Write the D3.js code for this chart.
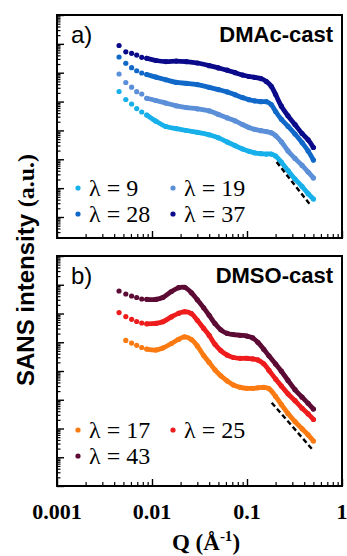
<!DOCTYPE html>
<html>
<head>
<meta charset="utf-8">
<script src="https://cdn.jsdelivr.net/npm/d3@7"></script>
<style>
  body { margin: 0; background: #fff; }
  svg { display: block; }
</style>
</head>
<body>
<svg id="fig" width="347" height="556"></svg>
<script>
// ---- Panel a: DMAc-cast membranes ----
const qA = [0.0045, 0.0053, 0.0061, 0.0069, 0.0078,
  0.0088, 0.011, 0.014, 0.018, 0.023, 0.03, 0.04, 0.05, 0.062, 0.075, 0.09,
  0.105, 0.12, 0.14, 0.16, 0.18, 0.2, 0.23, 0.27, 0.32, 0.38, 0.44, 0.5];
const iA9 = [2.23e4, 1.18e4, 8.23e3, 5.70e3, 4.35e3,
  3.42e3, 2.09e3, 1.37e3, 1.16e3, 994, 861, 705, 555, 397, 296, 227,
  189, 168, 156, 152, 152, 130, 79.2, 40.8, 20.7, 11.4, 6.42, 4.2];
const iA19 = [9.02e4, 4.57e4, 3.15e4, 2.20e4, 1.83e4,
  1.30e4, 1.09e4, 8.85e3, 7.13e3, 6.22e3, 5.61e3, 4.75e3, 3.59e3, 2.72e3, 2.14e3, 1.59e3,
  1.26e3, 1.09e3, 978, 910, 827, 662, 403, 195, 107, 61.4, 36.3, 22.5];
const iA28 = [3.50e5, 2.13e5, 1.50e5, 1.17e5, 9.77e4,
  8.67e4, 7.04e4, 5.68e4, 4.61e4, 4.29e4, 3.87e4, 3.12e4, 2.60e4, 2.16e4, 1.71e4, 1.37e4,
  1.16e4, 1.06e4, 9.9e3, 9.9e3, 7.85e3, 4.53e3, 2.43e3, 1.39e3, 751, 378, 194, 94];
const iA37 = [8.76e5, 5.30e5, 4.70e5, 4.10e5, 3.42e5,
  3.16e5, 2.65e5, 2.43e5, 2.54e5, 2.41e5, 2.17e5, 1.76e5, 1.47e5, 1.22e5, 1.0e5, 8.3e4,
  7.4e4, 6.9e4, 6.25e4, 4.95e4, 3.38e4, 1.76e4, 6.9e3, 3.21e3, 1.59e3, 782, 473, 256];
const lambdaA = [9, 19, 28, 37];
const porodQA = [0.205, 0.465];
const porodIA = [80, 2.6];

// ---- Panel b: DMSO-cast membranes ----
const qB = [0.0045, 0.0053, 0.0061, 0.0069, 0.0078,
  0.0088, 0.011, 0.013, 0.016, 0.019, 0.022, 0.026, 0.03, 0.035, 0.04, 0.046,
  0.053, 0.062, 0.072, 0.085, 0.1, 0.115, 0.13, 0.15, 0.17, 0.2, 0.23, 0.27,
  0.32, 0.38, 0.44, 0.5];
const iB17 = [null, 1.16e5, 9.33e4, 7.83e4, 6.56e4,
  5.78e4, 5.37e4, 6.31e4, 9.06e4, 1.25e5, 1.55e5, 1.24e5, 7.41e4, 3.46e4, 1.99e4, 1.10e4,
  6.81e3, 4.49e3, 3.26e3, 2.71e3, 2.50e3, 2.50e3, 2.61e3, 2.69e3, 2.44e3, 1.31e3, 678, 333,
  175, 97.7, 60.4, 36.7];
const iB25 = [1.08e6, 7.80e5, 6.28e5, 5.27e5, 4.67e5,
  4.38e5, 4.53e5, 5.14e5, 7.62e5, 1.01e6, 1.15e6, 9.93e5, 5.80e5, 3.03e5, 1.73e5, 8.49e4,
  5.13e4, 3.55e4, 2.95e4, 2.77e4, 2.77e4, 2.64e4, 2.43e4, 1.78e4, 1.07e4, 5.27e3, 3.01e3, 1.61e3,
  927, 505, 322, 206];
const iB43 = [6.07e6, 4.77e6, 4.06e6, 3.60e6, 3.19e6,
  3.12e6, 3.09e6, 3.60e6, 5.82e6, 7.89e6, 8.15e6, 5.25e6, 3.00e6, 1.57e6, 8.65e5, 4.46e5,
  2.71e5, 2.03e5, 1.86e5, 1.75e5, 1.64e5, 1.41e5, 9.96e4, 5.69e4, 3.38e4, 1.75e4, 9.84e3, 4.71e3,
  2.24e3, 1.23e3, 753, 476];
const lambdaB = [17, 25, 43];
const porodQB = [0.182, 0.5];
const porodIB = [790, 17];

// Shared axis
const qTickLabels = ["0.001", "0.01", "0.1", "1"];
const qTickValues = [0.001, 0.01, 0.1, 1];

// Number of sparse low-Q points before the dense detector range
const SPARSE = 5;

const SANS_FONT = "'Liberation Sans', Arial, sans-serif";
const SERIF_FONT = "'Liberation Serif', 'Times New Roman', serif";

const svg = d3.select("#fig");
const L = 57, R = 342;
const x = d3.scaleLog().domain([0.001, 1]).range([L, R]);

function decadeTicks(lo, hi) {
  const major = [], minor = [];
  for (let e = Math.floor(Math.log10(lo)); e <= Math.ceil(Math.log10(hi)); e++) {
    for (let m = 1; m <= 9; m++) {
      const v = m * Math.pow(10, e);
      if (v < lo * 0.999 || v > hi * 1.001) continue;
      (m === 1 ? major : minor).push(v);
    }
  }
  return { major, minor };
}

function drawPanel(cfg) {
  const { top, bottom, yDomain, q, series, tag, title, legend, porodQ, porodI } = cfg;
  const y = d3.scaleLog().domain(yDomain).range([bottom, top]);
  const g = svg.append("g");

  // inward ticks, left axis
  const yt = decadeTicks(yDomain[0], yDomain[1]);
  g.append("g").attr("transform", `translate(${L},0)`)
    .call(d3.axisLeft(y).tickValues(yt.minor).tickSize(-3.5).tickFormat(""))
    .call(a => a.select(".domain").remove())
    .call(a => a.selectAll("line").attr("stroke", "#000").attr("stroke-width", 1.2));
  g.append("g").attr("transform", `translate(${L},0)`)
    .call(d3.axisLeft(y).tickValues(yt.major).tickSize(-7).tickFormat(""))
    .call(a => a.select(".domain").remove())
    .call(a => a.selectAll("line").attr("stroke", "#000").attr("stroke-width", 1.4));

  // inward ticks, bottom axis
  const xt = decadeTicks(0.001, 1);
  g.append("g").attr("transform", `translate(0,${bottom})`)
    .call(d3.axisBottom(x).tickValues(xt.minor).tickSize(-4).tickFormat(""))
    .call(a => a.select(".domain").remove())
    .call(a => a.selectAll("line").attr("stroke", "#000").attr("stroke-width", 1.2));
  g.append("g").attr("transform", `translate(0,${bottom})`)
    .call(d3.axisBottom(x).tickValues(xt.major).tickSize(-7).tickFormat(""))
    .call(a => a.select(".domain").remove())
    .call(a => a.selectAll("line").attr("stroke", "#000").attr("stroke-width", 1.4));

  // scattering curves
  series.forEach(s => {
    const pts = q.map((qq, i) => ({ q: qq, v: s.values[i], i })).filter(d => d.v != null);
    const dense = pts.filter(d => d.i >= SPARSE - 1);
    g.append("path")
      .datum(dense)
      .attr("fill", "none")
      .attr("stroke", s.color)
      .attr("stroke-width", 4.8)
      .attr("stroke-linecap", "round")
      .attr("stroke-linejoin", "round")
      .attr("d", d3.line().x(d => x(d.q)).y(d => y(d.v)).curve(d3.curveCatmullRom.alpha(0.5))
        .defined(d => d.i >= SPARSE));
    g.append("g").selectAll("circle").data(pts).join("circle")
      .attr("cx", d => x(d.q)).attr("cy", d => y(d.v))
      .attr("r", 2.6).attr("fill", s.color);
  });

  // Porod Q^-4 guide
  g.append("line")
    .attr("x1", x(porodQ[0])).attr("y1", y(porodI[0]))
    .attr("x2", x(porodQ[1])).attr("y2", y(porodI[1]))
    .attr("stroke", "#000").attr("stroke-width", 2.4)
    .attr("stroke-dasharray", "5,3");

  // frame
  g.append("rect").attr("x", L).attr("y", top)
    .attr("width", R - L).attr("height", bottom - top)
    .attr("fill", "none").attr("stroke", "#000").attr("stroke-width", 2);

  // panel tag and title
  g.append("text").attr("x", 71).attr("y", top + 28)
    .attr("font-family", SANS_FONT)
    .attr("font-size", 24).text(tag);
  g.append("text").attr("x", 333).attr("y", top + 27)
    .attr("text-anchor", "end")
    .attr("font-family", SANS_FONT)
    .attr("font-weight", "bold").attr("font-size", 22).text(title);

  // legend
  legend.forEach((row, r) => {
    row.forEach((s, c) => {
      const lx = c === 0 ? 78 : 173;
      const ly = cfg.legendY + r * 26;
      g.append("circle").attr("cx", lx).attr("cy", ly).attr("r", 2.6).attr("fill", s.color);
      g.append("text").attr("x", lx + 11).attr("y", ly + 8)
        .attr("font-family", SERIF_FONT)
        .attr("font-size", 24).text(`λ = ${s.lambda}`);
    });
  });
  return y;
}

const colA = ["#17b0ea", "#5b8fd8", "#1068c8", "#0a0a8a"];
const colB = ["#fb7a12", "#ee1c1c", "#5c0b34"];
const seriesA = [iA9, iA19, iA28, iA37].map((v, k) => ({ values: v, lambda: lambdaA[k], color: colA[k] }));
const seriesB = [iB17, iB25, iB43].map((v, k) => ({ values: v, lambda: lambdaB[k], color: colB[k] }));

drawPanel({
  top: 15, bottom: 238, yDomain: [0.187, 1e7], q: qA, series: seriesA,
  tag: "a)", title: "DMAc-cast",
  legend: [[seriesA[0], seriesA[1]], [seriesA[2], seriesA[3]]], legendY: 188,
  porodQ: porodQA, porodI: porodIA
});
const yBottom = 486;
drawPanel({
  top: 256, bottom: yBottom, yDomain: [1, 1e8], q: qB, series: seriesB,
  tag: "b)", title: "DMSO-cast",
  legend: [[seriesB[0], seriesB[1]], [seriesB[2]]], legendY: 430,
  porodQ: porodQB, porodI: porodIB
});

// Q tick labels under the lower panel
svg.append("g").selectAll("text").data(qTickValues).join("text")
  .attr("x", d => x(d)).attr("y", yBottom + 33)
  .attr("text-anchor", "middle")
  .attr("font-family", SERIF_FONT)
  .attr("font-weight", "bold").attr("font-size", 22)
  .text((d, i) => qTickLabels[i]);

// axis titles
const xt = svg.append("text").attr("x", 206).attr("y", 550)
  .attr("text-anchor", "middle")
  .attr("font-family", SERIF_FONT)
  .attr("font-weight", "bold").attr("font-size", 23);
xt.append("tspan").text("Q (Å");
xt.append("tspan").attr("font-size", 15).attr("dy", -9).text("-1");
xt.append("tspan").attr("dy", 9).text(")");

const ylab = svg.append("text")
  .attr("transform", "translate(34,270) rotate(-90)")
  .attr("text-anchor", "middle")
  .attr("font-weight", "bold").attr("font-size", 24);
ylab.append("tspan").attr("font-family", SANS_FONT).text("SANS intensity ");
ylab.append("tspan").attr("font-family", SERIF_FONT).text("(a.u.)");
</script>
</body>
</html>
